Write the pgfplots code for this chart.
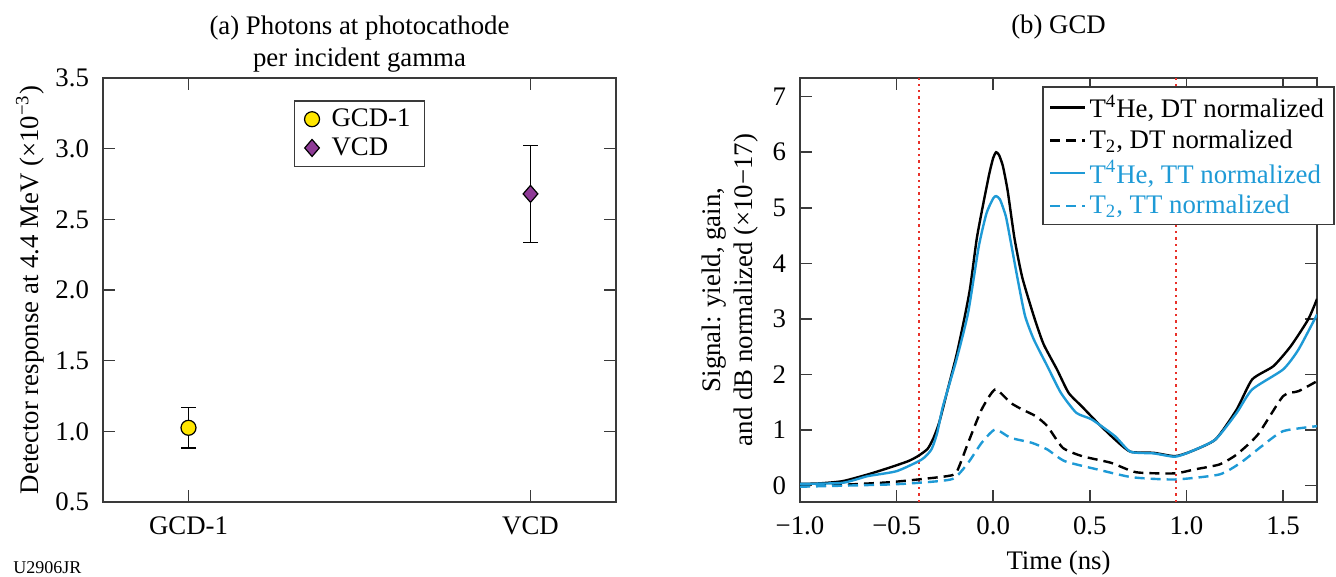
\documentclass[border=0pt]{standalone}
\usepackage{fontspec}
\setmainfont{Liberation Serif}
\usepackage{pgfplots}
\pgfplotsset{compat=1.18}
\definecolor{tblue}{HTML}{1E9AD6}
\definecolor{gyellow}{HTML}{FFE600}
\definecolor{vpurple}{HTML}{8E3A96}
\definecolor{axgray}{HTML}{3A3A3A}
\definecolor{dotred}{HTML}{E8312A}
\newcommand{\fs}{\fontsize{13.4}{16}\selectfont}

\pgfplotsset{
  panel/.style={
    scale only axis, height=212pt,
    axis line style={axgray, line width=0.8pt},
    tick style={axgray, line width=0.8pt},
    major tick length=6pt,
    tick align=inside, tick pos=both,
    label style={font=\fs},
    tick label style={font=\fs},
    yticklabel style={xshift=-3.5pt},
    xticklabel style={yshift=-4pt},
    title style={font=\fs, align=center},
    legend style={font=\fs, draw=axgray, line width=0.8pt, fill=white},
    legend cell align=left,
  },
}

\begin{document}
\begin{tikzpicture}
% (a) detector response
\begin{axis}[panel, width=256.5pt, at={(0pt,0pt)}, anchor=south west,
  xmin=-0.25, xmax=1.25, ymin=0.5, ymax=3.5,
  xtick={0,1}, xticklabels={GCD-1,VCD},
  ytick={0.5,1,1.5,2,2.5,3,3.5}, yticklabels={0.5,1.0,1.5,2.0,2.5,3.0,3.5},
  title={(a) Photons at photocathode\\per incident gamma},
  title style={yshift=-6.5pt},
  ylabel={Detector response at 4.4 MeV (×10\textsuperscript{−3})},
  ylabel style={at={(axis description cs:-0.142,0.5)}, anchor=center},
  legend style={at={(0.5,0.948)}, anchor=north, inner xsep=5pt, column sep=4pt},
]
\addplot[only marks, mark=*, mark size=3.75pt,
  mark options={fill=gyellow, draw=black, line width=0.6pt},
  error bars/.cd, y dir=both, y explicit,
  error bar style={black, line width=0.6pt},
  error mark options={rotate=90, mark size=3.75pt, black, line width=0.6pt}]
  coordinates {(0,1.025) +- (0,0.143)};
\addlegendentry{GCD-1}
\addplot[only marks, mark=diamond*, mark size=4.25pt,
  mark options={fill=vpurple, draw=black, line width=0.6pt, xscale=1.15},
  error bars/.cd, y dir=both, y explicit,
  error bar style={black, line width=0.6pt},
  error mark options={rotate=90, mark size=3.75pt, black, line width=0.6pt, xscale=1}]
  coordinates {(1,2.68) +- (0,0.342)};
\addlegendentry{VCD}
\end{axis}

% (b) GCD signal
\begin{axis}[panel, width=258.5pt, at={(348.5pt,0pt)}, anchor=south west,
  xmin=-1, xmax=1.676, ymin=-0.295, ymax=7.336,
  xtick={-1,-0.5,0,0.5,1,1.5}, xticklabels={−1.0,−0.5,0.0,0.5,1.0,1.5},
  ytick={0,1,2,3,4,5,6,7}, yticklabels={0,1,2,3,4,5,6,7},
  title={(b) GCD}, title style={yshift=10pt},
  xlabel={Time (ns)},
  xlabel style={at={(axis description cs:0.5,-0.1435)}, anchor=center},
  ylabel={Signal: yield, gain,\\and dB normalized (×10−17)},
  ylabel style={align=center, at={(axis description cs:-0.135,0.5)}, anchor=center},
  legend style={at={(0.468,0.981)}, anchor=north west, row sep=0.5pt},
  legend image post style={line width=1.3pt},
  every axis plot/.append style={line width=1.2pt, smooth, tension=0.35},
]
\addplot[color=dotred, dotted, line width=0.7pt, forget plot, sharp plot] coordinates {(-0.385,-0.295) (-0.385,7.336)};
\addplot[color=dotred, dotted, line width=0.7pt, forget plot, sharp plot] coordinates {(0.945,-0.295) (0.945,7.336)};

\addplot[black] coordinates {
(-1.00,0.03) (-0.90,0.04) (-0.78,0.08) (-0.65,0.20) (-0.54,0.32) (-0.44,0.44)
(-0.39,0.53) (-0.34,0.66) (-0.31,0.85) (-0.28,1.13) (-0.24,1.67) (-0.19,2.35)
(-0.15,3.00) (-0.12,3.55) (-0.085,4.45) (-0.05,5.10) (-0.02,5.62) (0.0,5.90)
(0.015,6.00) (0.03,5.95) (0.05,5.75) (0.075,5.30) (0.11,4.45) (0.15,3.75)
(0.21,3.05) (0.26,2.55) (0.33,2.09) (0.39,1.67) (0.46,1.42) (0.54,1.13)
(0.63,0.83) (0.71,0.61) (0.83,0.59) (0.94,0.53) (1.02,0.61) (1.15,0.83)
(1.26,1.37) (1.34,1.91) (1.45,2.15) (1.54,2.51) (1.63,2.99) (1.676,3.36)};
\addlegendentry{T\textsuperscript{4}He, DT normalized}

\addplot[black, dash pattern=on 5pt off 3pt] coordinates {
(-1.00,-0.01) (-0.75,0.02) (-0.54,0.06) (-0.39,0.11) (-0.24,0.17) (-0.19,0.24)
(-0.13,0.77) (-0.06,1.37) (0.01,1.73) (0.09,1.49) (0.15,1.37) (0.22,1.25)
(0.28,1.07) (0.36,0.68) (0.46,0.53) (0.61,0.41) (0.74,0.24) (0.94,0.22)
(1.04,0.29) (1.17,0.38) (1.26,0.56) (1.37,0.92) (1.50,1.61) (1.58,1.70)
(1.676,1.88)};
\addlegendentry{T\textsubscript{2}, DT normalized}

\addplot[tblue] coordinates {
(-1.00,0.03) (-0.78,0.05) (-0.65,0.17) (-0.50,0.26) (-0.37,0.47) (-0.32,0.65)
(-0.29,0.95) (-0.26,1.43) (-0.19,2.27) (-0.13,3.11) (-0.075,4.30) (-0.035,4.90)
(0.0,5.17) (0.015,5.21) (0.035,5.15) (0.065,4.85) (0.09,4.40) (0.13,3.65)
(0.165,3.05) (0.21,2.63) (0.28,2.15) (0.35,1.67) (0.43,1.31) (0.51,1.19)
(0.63,0.89) (0.71,0.61) (0.83,0.58) (0.94,0.52) (1.02,0.61) (1.15,0.83)
(1.26,1.31) (1.34,1.73) (1.50,2.09) (1.58,2.45) (1.676,3.08)};
\addlegendentry{\textcolor{tblue}{T\textsuperscript{4}He, TT normalized}}

\addplot[tblue, dash pattern=on 5pt off 3pt] coordinates {
(-1.00,-0.02) (-0.54,0.02) (-0.39,0.05) (-0.21,0.12) (-0.13,0.41) (-0.06,0.77)
(0.01,1.01) (0.09,0.86) (0.20,0.77) (0.28,0.65) (0.37,0.44) (0.54,0.29)
(0.72,0.15) (0.94,0.11) (1.17,0.20) (1.28,0.41) (1.39,0.71) (1.50,0.98)
(1.676,1.07)};
\addlegendentry{\textcolor{tblue}{T\textsubscript{2}, TT normalized}}
\end{axis}

\node[anchor=west, font=\fontsize{9}{10}\selectfont, inner sep=0pt] at (-45pt,-33pt) {U2906JR};
\pgfresetboundingbox
\path[use as bounding box] (-51.5pt,-37.5pt) rectangle (616.5pt,251pt);
\end{tikzpicture}
\end{document}
